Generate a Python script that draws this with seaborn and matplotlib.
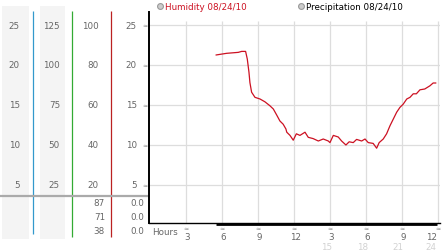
import matplotlib
matplotlib.use("Agg")
import matplotlib.pyplot as plt
import seaborn as sns
import numpy as np
import pandas as pd

# ---------------- data ----------------
hours = [5.5, 6.39, 7.36, 7.64, 7.97, 8.11, 8.25, 8.33, 8.47, 8.75, 9.17, 9.58,
         10.0, 10.28, 10.56, 10.83, 11.1, 11.33, 11.4, 11.67, 11.94, 12.2, 12.5,
         12.92, 13.19, 13.6, 14.03, 14.44, 14.86, 15.0, 15.28, 15.69, 15.97, 16.33,
         16.6, 16.94, 17.22, 17.64, 17.92, 18.19, 18.6, 18.89, 19.1, 19.44, 19.72,
         20.0, 20.28, 20.56, 20.83, 21.1, 21.4, 21.67, 21.94, 22.2, 22.5, 22.9,
         23.33, 23.6, 23.83]
humidity = [21.25, 21.46, 21.58, 21.7, 21.7, 20.75, 19.1, 17.8, 16.6, 15.96, 15.75,
            15.4, 14.9, 14.5, 13.75, 13.0, 12.6, 12.0, 11.6, 11.2, 10.6, 11.4, 11.2,
            11.6, 10.96, 10.8, 10.5, 10.75, 10.5, 10.3, 11.2, 11.0, 10.5, 10.0, 10.4,
            10.3, 10.7, 10.5, 10.75, 10.3, 10.2, 9.6, 10.3, 10.75, 11.4, 12.4, 13.25,
            14.1, 14.7, 15.1, 15.75, 15.96, 16.4, 16.4, 16.9, 17.0, 17.4, 17.75, 17.75]

y_ticks = [25, 20, 15, 10, 5]
col1_labels = ["25", "20", "15", "10", "5"]
col2_labels = ["125", "100", "75", "50", "25"]
col3_labels = ["100", "80", "60", "40", "20"]
col4_labels = ["25", "20", "15", "10", "5"]
col3_extra = ["87", "71", "38"]
col4_extra = ["0.0", "0.0", "0.0"]

x_ticks = [3, 6, 9, 12, 15, 18, 21, 24]
x_labels = ["3", "6", "9", "12", "3", "6", "9", "12"]
x_ticks2 = [15, 18, 21, 24]
x_labels2 = ["15", "18", "21", "24"]

legend_labels = ["Humidity 08/24/10", "Precipitation 08/24/10"]

df = pd.DataFrame({"hour": hours, "humidity": humidity})

# ---------------- figure ----------------
sns.set_style("white")
plt.rcParams["font.family"] = ["DejaVu Sans"]
W, H = 442, 253
fig = plt.figure(figsize=(W / 100, H / 100), dpi=100)

FS = 6.3
LBL = "#666666"

# left panel axes: pixel x, value-y mapped so v -> pixel 226 - 8v
axl = fig.add_axes([0, 0, 149 / W, 1])
axl.set_xlim(0, 149)
axl.set_ylim(-3.375, 28.25)
axl.axis("off")

def pv(py):
    return (226 - py) / 8.0

# gray column backgrounds
for x0, x1 in [(2, 29), (40, 65)]:
    axl.fill_between([x0, x1], pv(240), pv(7), color="#f4f4f4", lw=0, zorder=0)
# colored separator lines
axl.vlines(33, pv(235), pv(12), color="#3399cc", lw=0.9, zorder=2)
axl.vlines(72, pv(238), pv(12), color="#33aa33", lw=0.9, zorder=2)
axl.vlines(111, pv(238), pv(12), color="#bb2222", lw=0.9, zorder=2)
# horizontal gray separator
axl.hlines(pv(197), 0, 149, color="#aaaaaa", lw=1.6, zorder=3)

for v, a, b, c, d in zip(y_ticks, col1_labels, col2_labels, col3_labels, col4_labels):
    axl.text(20, v, a, ha="right", va="center", fontsize=FS, color=LBL)
    axl.text(60, v, b, ha="right", va="center", fontsize=FS, color=LBL)
    axl.text(99, v, c, ha="right", va="center", fontsize=FS, color=LBL)
    axl.text(137, v, d, ha="right", va="center", fontsize=FS, color=LBL)
    axl.text(145, v, "≈", ha="center", va="center", fontsize=4.5, color="#888888")

for py, c, d in zip([204, 218, 232], col3_extra, col4_extra):
    axl.text(105, pv(py), c, ha="right", va="center", fontsize=FS, color=LBL)
    axl.text(144, pv(py), d, ha="right", va="center", fontsize=FS, color=LBL)

# main axes
ax = fig.add_axes([149 / W, (H - 224) / H, (440 - 149) / W, (224 - 13) / H])
ax.set_xlim(-0.08, 24.17)
ax.set_ylim(0.25, 26.625)
ax.set_facecolor("none")
ax.hlines(y_ticks, -0.08, 24.17, color="#dddddd", lw=0.9, zorder=0)
ax.vlines(x_ticks, 0.25, 25.5, color="#dddddd", lw=0.9, zorder=0)

sns.lineplot(data=df, x="hour", y="humidity", ax=ax, color="#cc1122",
             lw=0.9, zorder=3)

for s in ["top", "right"]:
    ax.spines[s].set_visible(False)
ax.spines["left"].set_color("black")
ax.spines["left"].set_linewidth(1.4)
ax.spines["bottom"].set_color("black")
ax.spines["bottom"].set_linewidth(1.0)
ax.set_xticks([])
ax.set_yticks([])
ax.set_xlabel("")
ax.set_ylabel("")

# thick bottom bar across data span
ax.hlines(0.25 - 0.12, hours[0], hours[-1] + 0.1, color="black", lw=2.0,
          clip_on=False, zorder=4)

tr = ax.get_xaxis_transform()
def fy(py):
    return (224 - py) / 211.0

ax.text(1.29, fy(232.5), "Hours", ha="center", va="center", fontsize=FS,
        color=LBL, transform=tr)
last = x_ticks[-1]
for xt, lab in zip(x_ticks, x_labels):
    ax.text(xt, fy(229.5), "≈", ha="center", va="center", fontsize=4.5,
            color="#888888", transform=tr)
    if xt == last:
        ax.text(xt - 0.05, fy(237.5), lab, ha="right", va="center",
                fontsize=FS, color=LBL, transform=tr)
    else:
        ax.text(xt + 0.1, fy(237.5), lab, ha="center", va="center",
                fontsize=FS, color=LBL, transform=tr)
for xt, lab in zip(x_ticks2, x_labels2):
    if xt == last:
        ax.text(xt - 0.1, fy(247.5), lab, ha="right", va="center",
                fontsize=FS, color="#d2d2d2", transform=tr)
    else:
        ax.text(xt - 0.3, fy(247.5), lab, ha="center", va="center",
                fontsize=FS, color="#d2d2d2", transform=tr)

# legend
for cx, tx, lab, col in [(160, 165, legend_labels[0], "#cc1122"),
                         (301, 306, legend_labels[1], "black")]:
    fig.text(tx / W, 1 - 7 / H, lab, ha="left", va="center", fontsize=FS,
             color=col)
    fig.lines.append(matplotlib.lines.Line2D([cx / W], [1 - 7 / H], marker="o",
                     markersize=4.2, markerfacecolor="#cccccc",
                     markeredgecolor="#999999", markeredgewidth=0.8,
                     transform=fig.transFigure))

fig.savefig("out.png", dpi=100)
